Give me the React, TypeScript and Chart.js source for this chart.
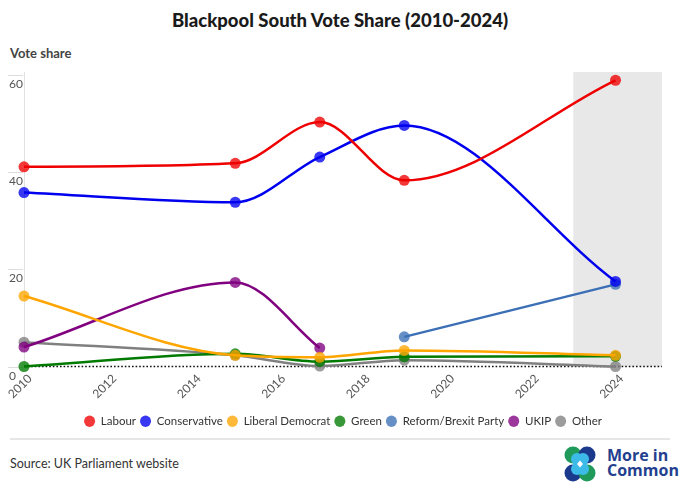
import React, { useEffect, useRef } from "react";
import { Chart, registerables } from "chart.js";

Chart.register(...registerables);

const years = [2010, 2015, 2017, 2019, 2024];
const reformYears = [2019, 2024];
const ukipYears = [2010, 2015, 2017];

const labour = [41.1, 41.8, 50.3, 38.3, 58.9];
const conservative = [35.8, 33.8, 43.1, 49.6, 17.5];
const libDem = [14.5, 2.3, 1.9, 3.3, 2.3];
const green = [0, 2.6, 1.0, 2.0, 2.1];
const reform = [6.1, 16.9];
const ukip = [4.0, 17.3, 3.8];
const other = [5.0, 2.3, 0.1, 1.3, 0];

const xTicks = [2010, 2012, 2014, 2016, 2018, 2020, 2022, 2024];
const yTicks = [0, 20, 40, 60];

const FONT = "Lato, 'Noto Sans', sans-serif";

function pts(xs: number[], ys: number[]) {
  return xs.map((x, i) => ({ x, y: ys[i] }));
}

function hexA(hex: string, a: number) {
  const h = hex.replace("#", "");
  const r = parseInt(h.slice(0, 2), 16);
  const g = parseInt(h.slice(2, 4), 16);
  const b = parseInt(h.slice(4, 6), 16);
  return `rgba(${r},${g},${b},${a})`;
}

const series = [
  { label: "Labour", xs: years, ys: labour, color: "#ee0000" },
  { label: "Conservative", xs: years, ys: conservative, color: "#0000ee" },
  { label: "Liberal Democrat", xs: years, ys: libDem, color: "#ffa500" },
  { label: "Green", xs: years, ys: green, color: "#007a00" },
  { label: "Reform/Brexit Party", xs: reformYears, ys: reform, color: "#3b6fb6" },
  { label: "UKIP", xs: ukipYears, ys: ukip, color: "#800080" },
  { label: "Other", xs: years, ys: other, color: "#808080" },
];

const decorPlugin = {
  id: "decor",
  beforeDatasetsDraw(chart: any) {
    const { ctx, chartArea } = chart;
    const xs = chart.scales.x;
    const ys = chart.scales.y;
    ctx.save();
    const bx = xs.getPixelForValue(2023);
    ctx.fillStyle = "#e8e8e8";
    ctx.fillRect(bx, chartArea.top, chartArea.right - bx, chartArea.bottom - chartArea.top);
    ctx.strokeStyle = "#e2e2e2";
    ctx.lineWidth = 1;
    ctx.beginPath();
    ctx.moveTo(chartArea.left + 0.5, chartArea.top);
    ctx.lineTo(chartArea.left + 0.5, chartArea.bottom);
    ctx.stroke();
    ctx.font = `12px ${FONT}`;
    ctx.fillStyle = "#555";
    ctx.textAlign = "left";
    ctx.textBaseline = "middle";
    yTicks.forEach((v) => {
      const py = Math.round(ys.getPixelForValue(v)) + 0.5;
      ctx.strokeStyle = "#dddddd";
      ctx.beginPath();
      ctx.moveTo(8, py);
      ctx.lineTo(chartArea.left - 1, py);
      ctx.stroke();
      ctx.fillText(String(v), 9, py + 9);
    });
    const zy = ys.getPixelForValue(0);
    ctx.strokeStyle = "#111";
    ctx.lineWidth = 1.6;
    ctx.setLineDash([1.6, 2]);
    ctx.beginPath();
    ctx.moveTo(chartArea.left, zy);
    ctx.lineTo(chartArea.right, zy);
    ctx.stroke();
    ctx.restore();
  },
};

export default function App() {
  const ref = useRef<HTMLCanvasElement | null>(null);

  useEffect(() => {
    document.body.style.margin = "0";
    if (!ref.current) return;
    const chart = new Chart(ref.current, {
      type: "line",
      data: {
        datasets: series.map((s) => ({
          label: s.label,
          data: pts(s.xs, s.ys),
          borderColor: s.color,
          backgroundColor: s.color,
          pointBackgroundColor: hexA(s.color, 0.78),
          pointBorderWidth: 0,
          pointRadius: 5.5,
          pointHoverRadius: 5.5,
          borderWidth: 2.5,
          cubicInterpolationMode: "monotone" as const,
          clip: false as any,
          pointStyle: "circle" as const,
        })),
      },
      plugins: [decorPlugin],
      options: {
        animation: false,
        responsive: false,
        events: [],
        layout: { padding: { left: 24, right: 18, top: 12, bottom: 4 } },
        scales: {
          x: {
            type: "linear",
            min: 2010,
            max: 2025.1,
            grid: { display: false },
            border: { display: false },
            afterBuildTicks: (scale: any) => {
              scale.ticks = xTicks.map((v) => ({ value: v }));
            },
            afterFit: (scale: any) => {
              scale.height = 45;
            },
            ticks: {
              minRotation: 45,
              maxRotation: 45,
              padding: -3,
              labelOffset: 6,
              color: "#555",
              font: { family: FONT, size: 12 },
              callback: (v: any) => String(v),
            },
          },
          y: {
            display: false,
            min: 0,
            max: 60.6,
          },
        },
        plugins: {
          legend: {
            position: "bottom",
            labels: {
              usePointStyle: true,
              pointStyle: "circle",
              boxHeight: 8,
              boxWidth: 11,
              pointStyleWidth: 11,
              padding: 4,
              color: "#333",
              font: { family: FONT, size: 11.5 },
            },
          },
          tooltip: { enabled: false },
        },
      },
    });
    return () => chart.destroy();
  }, []);

  return (
    <div style={{ position: "relative", width: 680, height: 491, background: "#fff", fontFamily: FONT, overflow: "hidden" }}>
      <div style={{ position: "absolute", top: 8, left: 0, width: 680, textAlign: "center", fontSize: 18.5, fontWeight: 900, color: "#1a1a1a", lineHeight: "24px" }}>
        Blackpool South Vote Share (2010-2024)
      </div>
      <div style={{ position: "absolute", top: 44, left: 10, fontSize: 13, fontWeight: 700, color: "#444", lineHeight: "18px" }}>
        Vote share
      </div>
      <div style={{ position: "absolute", top: 438, left: 10, width: 660, height: 2, background: "#e6e6e6" }} />
      <canvas ref={ref} width={680} height={381} style={{ position: "absolute", top: 60, left: 0, width: 680, height: 381 }} />
      <div style={{ position: "absolute", top: 456, left: 10, fontSize: 12.5, color: "#333", lineHeight: "16px" }}>
        Source: UK Parliament website
      </div>
      <svg style={{ position: "absolute", left: 564, top: 445 }} width={32} height={38} viewBox="0 0 32 38">
        <circle cx={9} cy={10} r={8.5} fill="#1f9a5a" />
        <circle cx={23} cy={10} r={8.5} fill="#1b3a8c" />
        <circle cx={9} cy={28} r={8.5} fill="#1b3a8c" />
        <circle cx={23} cy={28} r={8.5} fill="#1f9a5a" />
        <circle cx={13} cy={14} r={6} fill="#3dbbe8" />
        <circle cx={19} cy={14} r={6} fill="#3dbbe8" />
        <circle cx={13} cy={24} r={6} fill="#3dbbe8" />
        <circle cx={19} cy={24} r={6} fill="#3dbbe8" />
        <path d="M16 15.5 L19 19 L16 22.5 L13 19 Z" fill="#fff" />
      </svg>
      <div style={{ position: "absolute", left: 607, top: 448, fontSize: 16, fontWeight: 700, color: "#233f8e", lineHeight: "15px", fontFamily: "'Open Sans', sans-serif" }}>
        More in<br />Common
      </div>
    </div>
  );
}
